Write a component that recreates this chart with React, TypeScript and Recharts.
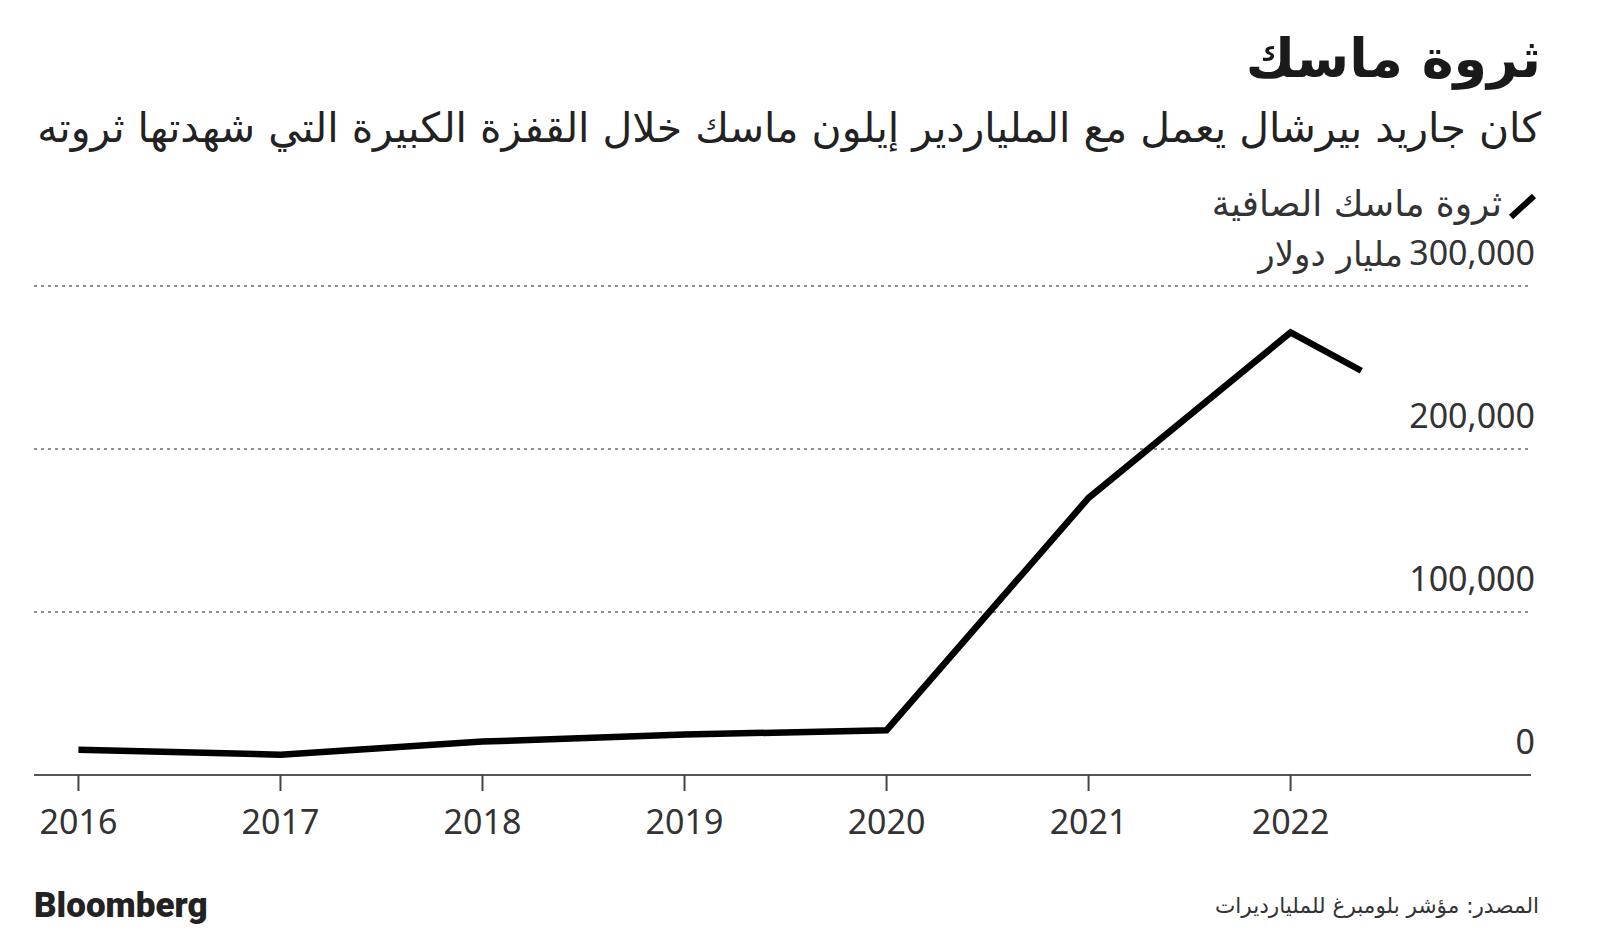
import * as React from "react";
import {
  LineChart,
  Line,
  XAxis,
  YAxis,
  CartesianGrid,
} from "recharts";

// Musk net worth, millions of dollars
const years = [2016, 2017, 2018, 2019, 2020, 2021, 2022, 2022.35];
const netWorth = [15500, 12500, 20500, 24800, 27500, 170000, 271500, 248000];

const xTicks = [2016, 2017, 2018, 2019, 2020, 2021, 2022];
const yTicks = [0, 100000, 200000, 300000];

const TITLE = "ثروة ماسك";
const SUBTITLE = "كان جاريد بيرشال يعمل مع الملياردير إيلون ماسك خلال القفزة الكبيرة التي شهدتها ثروته";
const SERIES_NAME = "ثروة ماسك الصافية";
const Y_UNIT = "مليار دولار";
const SOURCE = "المصدر: مؤشر بلومبرغ للمليارديرات";

const ARABIC = "'DejaVu Sans', sans-serif";
const LATIN = "'Noto Sans', sans-serif";

const chartData = years.map((year, i) => ({ year, value: netWorth[i] }));

const XTick = (props: any) => {
  const { x, y, payload } = props;
  return (
    <text
      x={x}
      y={y + 30}
      textAnchor="middle"
      dominantBaseline="central"
      fontFamily={LATIN}
      fontSize={34}
      fill="#333"
    >
      {payload.value}
    </text>
  );
};

const YTick = (props: any) => {
  const { y, payload } = props;
  const v = payload.value as number;
  const rightX = 1535;
  return (
    <g>
      <text
        x={rightX}
        y={y - 34}
        textAnchor="end"
        dominantBaseline="central"
        fontFamily={LATIN}
        fontSize={34}
        fill="#333"
      >
        {v.toLocaleString("en-US")}
      </text>
      {v === 300000 && (
        <text
          x={rightX - 132}
          y={y - 32}
          textAnchor="end"
          dominantBaseline="central"
          fontFamily={ARABIC}
          fontSize={34}
          fill="#333"
        >
          {Y_UNIT}
        </text>
      )}
    </g>
  );
};

export default function App() {
  return (
    <div
      style={{
        position: "absolute",
        left: 0,
        top: 0,
        width: 1600,
        height: 939,
        background: "#fff",
        overflow: "hidden",
      }}
    >
      <div
        dir="rtl"
        style={{
          position: "absolute",
          right: 59,
          top: 23,
          fontFamily: ARABIC,
          fontWeight: 700,
          fontSize: 54,
          lineHeight: "72px",
          color: "#1a1a1a",
          whiteSpace: "nowrap",
        }}
      >
        {TITLE}
      </div>
      <div
        dir="rtl"
        style={{
          position: "absolute",
          right: 59,
          top: 100,
          fontFamily: ARABIC,
          fontSize: 41,
          lineHeight: "56px",
          color: "#222",
          whiteSpace: "nowrap",
        }}
      >
        {SUBTITLE}
      </div>
      <div
        dir="rtl"
        style={{
          position: "absolute",
          right: 98,
          top: 182,
          fontFamily: ARABIC,
          fontSize: 36,
          lineHeight: "44px",
          color: "#333",
          whiteSpace: "nowrap",
        }}
      >
        {SERIES_NAME}
      </div>
      <svg
        style={{ position: "absolute", left: 1505, top: 190 }}
        width={36}
        height={34}
      >
        <line x1={6} y1={27} x2={29} y2={6} stroke="#000" strokeWidth={6} />
      </svg>

      <div style={{ position: "absolute", left: 0, top: 0 }}>
        <LineChart
          width={1600}
          height={939}
          data={chartData}
          margin={{ top: 286, right: 9, bottom: 104, left: 34 }}
        >
          <CartesianGrid
            vertical={false}
            stroke="#8f8f8f"
            strokeWidth={2}
            strokeDasharray="3 4"
          />
          <XAxis
            dataKey="year"
            type="number"
            domain={[2015.78, 2023.19]}
            ticks={xTicks}
            interval={0}
            height={60}
            tickSize={16}
            tickMargin={0}
            axisLine={{ stroke: "#555", strokeWidth: 2 }}
            tickLine={{ stroke: "#444", strokeWidth: 2 }}
            tick={<XTick />}
          />
          <YAxis
            orientation="right"
            type="number"
            domain={[0, 300000]}
            ticks={yTicks}
            interval={0}
            width={60}
            axisLine={false}
            tickLine={false}
            tick={<YTick />}
          />
          <Line
            type="linear"
            dataKey="value"
            stroke="#000"
            strokeWidth={6.5}
            dot={false}
            isAnimationActive={false}
          />
        </LineChart>
      </div>

      <div
        style={{
          position: "absolute",
          left: 34,
          top: 886,
          fontFamily: "Roboto, sans-serif",
          fontWeight: 900,
          fontSize: 35,
          letterSpacing: 0,
          lineHeight: "40px",
          color: "#222",
        }}
      >
        Bloomberg
      </div>
      <div
        dir="rtl"
        style={{
          position: "absolute",
          right: 61,
          top: 892,
          fontFamily: ARABIC,
          fontSize: 21.6,
          lineHeight: "28px",
          color: "#333",
          whiteSpace: "nowrap",
        }}
      >
        {SOURCE}
      </div>
    </div>
  );
}
